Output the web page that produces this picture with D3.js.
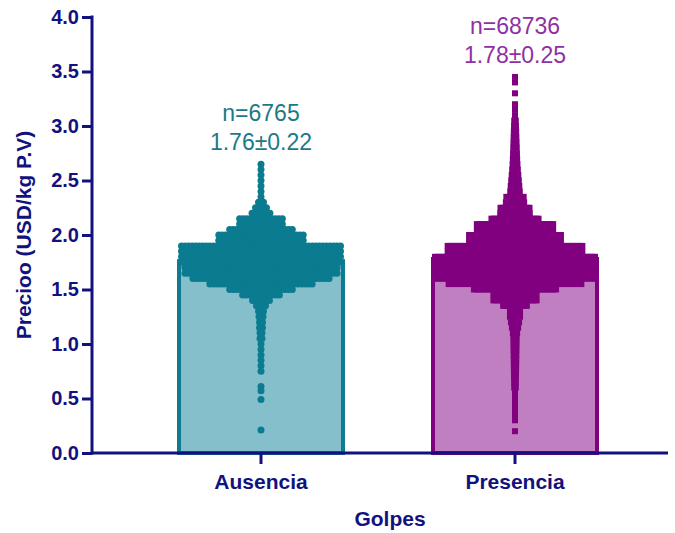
<!DOCTYPE html>
<html><head><meta charset="utf-8">
<script src="https://cdn.jsdelivr.net/npm/d3@7"></script>
<style>body{margin:0;background:#fff}</style>
</head><body><svg id="c" width="675" height="533"></svg>
<script>
const categories = ["Ausencia", "Presencia"];
const means = [1.76, 1.78];
const sds = [0.22, 0.25];
const ns = [6765, 68736];
const yTicks = [0, 0.5, 1, 1.5, 2, 2.5, 3, 3.5, 4];

const ausenciaPrice = [2.65,2.60,2.55,2.50,2.45,2.40,2.35,2.30,2.25,2.20,2.15,2.10,2.05,2.00,1.95,1.90,1.85,1.80,1.75,1.70,1.65,1.60,1.55,1.50,1.45,1.40,1.35,1.30,1.25,1.20,1.15,1.10,1.05,1.00,0.95,0.90,0.85,0.80,0.75,0.61,0.57,0.49,0.21];
const ausenciaCount = [1,1,1,1,1,1,2,6,12,19,44,44,64,86,86,161,161,161,161,154,154,138,104,64,38,18,10,6,5,4,4,3,3,2,2,2,2,1,1,1,1,1,1];

const presenciaPrice = [3.45,3.40,3.30,3.20,3.15,3.10,3.05,3.00,2.95,2.90,2.85,2.80,2.75,2.70,2.65,2.60,2.55,2.50,2.45,2.40,2.35,2.30,2.25,2.20,2.15,2.10,2.05,2.00,1.95,1.90,1.85,1.80,1.75,1.70,1.65,1.60,1.55,1.50,1.45,1.40,1.35,1.30,1.25,1.20,1.15,1.10,1.05,1.00,0.95,0.90,0.85,0.80,0.75,0.70,0.65,0.60,0.55,0.50,0.45,0.40,0.35,0.30,0.20];
const presenciaCount = [1,1,1,3,5,7,9,11,13,15,17,19,21,23,26,30,35,40,45,50,90,95,150,153,243,393,393,473,473,693,693,823,823,823,823,823,683,423,223,223,123,53,53,43,33,23,18,17,16,15,14,13,12,11,10,9,8,7,6,5,1,1,1];

const groups = [
  {name: categories[0], price: ausenciaPrice, count: ausenciaCount, dot: "#0b7b90", fill: "#84bfcb", stroke: "#0e7b90", text: "#1b7a87", shape: "circle", size: 7},
  {name: categories[1], price: presenciaPrice, count: presenciaCount, dot: "#800080", fill: "#c07fc0", stroke: "#800080", text: "#9030a4", shape: "square", size: 6}
];

const navy = "#12127e";
const font = "Liberation Sans, Arial, sans-serif";
const svg = d3.select("#c");
const y = d3.scaleLinear().domain([0, 4]).range([453, 17]);
const x = d3.scaleBand().domain(categories).range([134, 642]).padding(0);
const barW = 164;

// bars
groups.forEach((g, i) => {
  const cx = x(g.name) + x.bandwidth() / 2;
  svg.append("rect")
    .attr("x", cx - barW / 2).attr("y", y(means[i]))
    .attr("width", barW).attr("height", y(0) - y(means[i]))
    .attr("fill", g.fill).attr("stroke", g.stroke).attr("stroke-width", 4);
});

// beeswarm-like rows
groups.forEach((g, i) => {
  const cx = x(g.name) + x.bandwidth() / 2;
  const maxHalf = barW / 2 + 2 - g.size / 2 - 1;
  const w = d3.scaleLinear().domain([1, d3.max(g.count)]).range([0, maxHalf]);
  const pts = [];
  g.price.forEach((p, k) => {
    const hw = w(g.count[k]);
    const step = g.size * 0.5;
    const n = Math.max(1, Math.round(2 * hw / step) + 1);
    for (let j = 0; j < n; j++) {
      const dx = n === 1 ? 0 : -hw + j * (2 * hw / (n - 1));
      pts.push({x: cx + dx, y: y(p)});
    }
  });
  const gg = svg.append("g");
  if (g.shape === "circle") {
    gg.selectAll("circle").data(pts).join("circle")
      .attr("cx", d => d.x).attr("cy", d => d.y).attr("r", g.size / 2).attr("fill", g.dot);
  } else {
    gg.selectAll("rect").data(pts).join("rect")
      .attr("x", d => d.x - g.size / 2).attr("y", d => d.y - g.size / 2)
      .attr("width", g.size).attr("height", g.size).attr("fill", g.dot);
  }
});

// axes
const yAxis = svg.append("g").attr("transform", "translate(92,0)")
  .call(d3.axisLeft(y).tickValues(yTicks).tickFormat(d3.format(".1f")).tickSize(10).tickPadding(3));
const xAxisG = svg.append("g").attr("transform", "translate(0,453)")
  .call(d3.axisBottom(x).tickSize(11).tickPadding(10));
[yAxis, xAxisG].forEach(a => {
  a.select(".domain").remove();
  a.selectAll("line").attr("stroke", navy).attr("stroke-width", 3);
  a.selectAll("text").attr("fill", navy).attr("font-family", font).attr("font-weight", "bold");
});
yAxis.selectAll("text").attr("font-size", 20);
xAxisG.selectAll("text").attr("font-size", 21);
svg.append("line").attr("x1", 92).attr("x2", 92).attr("y1", y(4) - 1.5).attr("y2", y(0) + 1.5)
  .attr("stroke", navy).attr("stroke-width", 3);
svg.append("line").attr("x1", 92).attr("x2", 668).attr("y1", y(0)).attr("y2", y(0))
  .attr("stroke", navy).attr("stroke-width", 3);

// axis titles
svg.append("text").attr("transform", `translate(31,${(y(0) + y(4)) / 2}) rotate(-90)`)
  .attr("text-anchor", "middle").attr("fill", navy).attr("font-family", font)
  .attr("font-weight", "bold").attr("font-size", 21).text("Precioo (USD/kg P.V)");
svg.append("text").attr("x", 390).attr("y", 526)
  .attr("text-anchor", "middle").attr("fill", navy).attr("font-family", font)
  .attr("font-weight", "bold").attr("font-size", 21).text("Golpes");

// annotations
groups.forEach((g, i) => {
  const cx = x(g.name) + x.bandwidth() / 2;
  const top = y(d3.max(g.price));
  const t = svg.append("text").attr("text-anchor", "middle").attr("fill", g.text)
    .attr("font-family", font).attr("font-size", 23);
  t.append("tspan").attr("x", cx).attr("y", top - 43).text("n=" + ns[i]);
  t.append("tspan").attr("x", cx).attr("y", top - 14).text(means[i].toFixed(2) + "±" + sds[i].toFixed(2));
});
</script></body></html>
